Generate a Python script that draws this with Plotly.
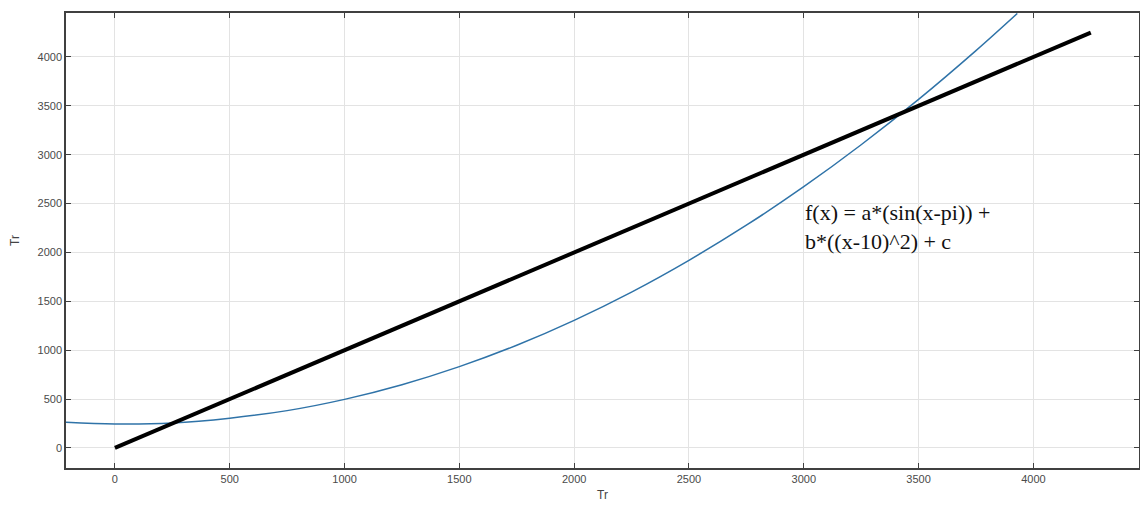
import plotly.graph_objects as go

# Fitted curve (blue)
curve_x = [-213, 0, 250, 500, 750, 1000, 1250, 1500, 1750, 2000, 2250, 2500,
           2750, 3000, 3250, 3500, 3750, 3930]
curve_y = [264, 246, 256, 305, 382, 497, 647, 832, 1051, 1306, 1595, 1920,
           2279, 2673, 3102, 3566, 4065, 4445]

# Identity line (black)
line_x = [0, 4250]
line_y = [0, 4250]

x_ticks = [0, 500, 1000, 1500, 2000, 2500, 3000, 3500, 4000]
y_ticks = [0, 500, 1000, 1500, 2000, 2500, 3000, 3500, 4000]

formula_text = "f(x) = a*(sin(x-pi)) +<br>b*((x-10)^2) + c"

fig = go.Figure()
fig.add_trace(go.Scatter(x=curve_x, y=curve_y, mode="lines",
                         line=dict(color="#2f73a8", width=1.5, shape="spline"),
                         showlegend=False))
fig.add_trace(go.Scatter(x=line_x, y=line_y, mode="lines",
                         line=dict(color="#000000", width=4),
                         showlegend=False))

axis_common = dict(
    showgrid=True, gridcolor="#e3e3e3", gridwidth=1,
    showline=True, linecolor="#404040", linewidth=1.5, mirror="ticks",
    ticks="inside", ticklen=5, tickcolor="#404040",
    zeroline=False, automargin=False,
    tickfont=dict(family="Liberation Sans, Arial, sans-serif", size=11, color="#4a4a4a"),
)

fig.update_layout(
    width=1132, height=494,
    margin=dict(l=58, r=1, t=5, b=34),
    paper_bgcolor="white", plot_bgcolor="white",
    xaxis=dict(range=[-213, 4460], tickvals=x_ticks,
               title=dict(text="Tr", standoff=7,
                          font=dict(family="Liberation Sans, Arial, sans-serif", size=12, color="#444444")),
               **axis_common),
    yaxis=dict(range=[-205, 4450], tickvals=y_ticks,
               title=dict(text="Tr", standoff=15,
                          font=dict(family="Liberation Sans, Arial, sans-serif", size=12, color="#444444")),
               **axis_common),
    annotations=[dict(x=2998, y=2560, xref="x", yref="y", text=formula_text,
                      showarrow=False, xanchor="left", yanchor="top", align="left",
                      font=dict(family="Liberation Serif, Times New Roman, serif", size=22, color="#111111"))],
)

fig.write_html("out.html")
